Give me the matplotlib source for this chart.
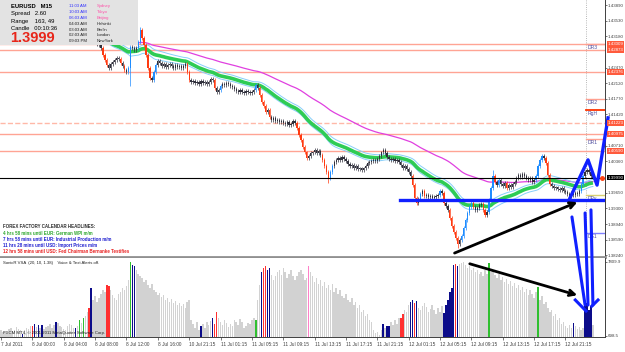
import numpy as np
import pandas as pd
import matplotlib
matplotlib.use("Agg")
import matplotlib.pyplot as plt
import matplotlib.transforms as mtransforms
from matplotlib.patches import Rectangle, ConnectionPatch

plt.rcParams['font.family'] = ['Liberation Sans', 'DejaVu Sans']

# ---------------- data (EURUSD M15 closes) ----------------
closes = [
    1.4321, 1.4324, 1.4326, 1.4324, 1.4328, 1.4332, 1.4330, 1.4335, 1.4332, 1.4337, 1.4335,
    1.4332, 1.4330, 1.4335, 1.4337, 1.4339, 1.4337, 1.4341, 1.4344, 1.4339, 1.4337,
    1.4335, 1.4332, 1.4337, 1.4339, 1.4335, 1.4330, 1.4328, 1.4332, 1.4335, 1.4330,
    1.4326, 1.4328, 1.4324, 1.4321, 1.4326, 1.4330, 1.4332, 1.4328, 1.4324, 1.4319,
    1.4321, 1.4317, 1.4314, 1.4310, 1.4312, 1.4308, 1.4310, 1.4305, 1.4301, 1.4299,
    1.4292, 1.4276, 1.4265, 1.4253, 1.4247, 1.4256, 1.4260, 1.4265, 1.4269, 1.4267,
    1.4258, 1.4251, 1.4242, 1.4238, 1.4247, 1.4294, 1.4292, 1.4287, 1.4292, 1.4305,
    1.4332, 1.4314, 1.4299, 1.4276, 1.4247, 1.4224, 1.4220, 1.4238, 1.4253, 1.4262,
    1.4258, 1.4251, 1.4256, 1.4249, 1.4253, 1.4256, 1.4251, 1.4247, 1.4253, 1.4249,
    1.4251, 1.4247, 1.4251, 1.4256, 1.4238, 1.4220, 1.4215, 1.4217, 1.4213, 1.4215,
    1.4211, 1.4217, 1.4213, 1.4215, 1.4211, 1.4215, 1.4222, 1.4220, 1.4201, 1.4192,
    1.4197, 1.4206, 1.4211, 1.4208, 1.4213, 1.4211, 1.4206, 1.4204, 1.4199, 1.4195,
    1.4192, 1.4197, 1.4192, 1.4190, 1.4195, 1.4192, 1.4190, 1.4192, 1.4197, 1.4208,
    1.4201, 1.4186, 1.4170, 1.4161, 1.4147, 1.4152, 1.4136, 1.4129, 1.4134, 1.4127,
    1.4129, 1.4125, 1.4127, 1.4122, 1.4120, 1.4125, 1.4118, 1.4120, 1.4127, 1.4122,
    1.4111, 1.4095, 1.4084, 1.4068, 1.4056, 1.4043, 1.4048, 1.4054, 1.4056, 1.4061,
    1.4054, 1.4059, 1.4050, 1.4039, 1.4025, 1.4011, 1.3998, 1.4011, 1.4025, 1.4034,
    1.4039, 1.4043, 1.4039, 1.4046, 1.4041, 1.4037, 1.4030, 1.4025, 1.4027, 1.4020,
    1.4025, 1.4018, 1.4020, 1.4016, 1.4020, 1.4025, 1.4032, 1.4034, 1.4037, 1.4039,
    1.4037, 1.4041, 1.4048, 1.4056, 1.4061, 1.4054, 1.4046, 1.4041, 1.4039, 1.4041,
    1.4037, 1.4039, 1.4034, 1.4027, 1.4020, 1.4025, 1.4018, 1.4011, 1.4003, 1.3982,
    1.3953, 1.3942, 1.3951, 1.3962, 1.3969, 1.3957, 1.3960, 1.3955, 1.3957, 1.3953,
    1.3955, 1.3957, 1.3960, 1.3969, 1.3964, 1.3942, 1.3935, 1.3926, 1.3908, 1.3889,
    1.3876, 1.3863, 1.3849, 1.3858, 1.3867, 1.3885, 1.3903, 1.3919, 1.3933, 1.3942,
    1.3933, 1.3926, 1.3930, 1.3937, 1.3939, 1.3926, 1.3914, 1.3921, 1.3948, 1.3975,
    1.4003, 1.3989, 1.3982, 1.3994, 1.3985, 1.3980, 1.3987, 1.3975, 1.3982, 1.3977,
    1.3985, 1.3989, 1.3998, 1.4005, 1.4000, 1.4007, 1.4003, 1.3998, 1.3994, 1.3998,
    1.3989, 1.3994, 1.4003, 1.4025, 1.4039, 1.4048, 1.4043, 1.4032, 1.4005, 1.3985,
    1.3980, 1.3975, 1.3977, 1.3973, 1.3971, 1.3975, 1.3969, 1.3966, 1.3962, 1.3957,
    1.3964, 1.3960, 1.3964, 1.3962, 1.3969, 1.3985, 1.4003, 1.4011, 1.4016, 1.4011, 1.4003, 1.3999,
]

highs_extra = {71: 1.4339, 251: 1.4016, 276: 1.4052}
lows_extra = {66: 1.4206, 167: 1.3987, 233: 1.3840}
wick = 0.0004

volumes = [
    1275, 1083, 1179, 986, 1371, 1467, 1179, 1275, 1563, 1371, 1275,
    890, 1275, 1467, 1371, 1659, 1659, 1851, 1563, 1755, 1467,
    1755, 1371, 1563, 1659, 1851, 1467, 1755, 2044, 1947, 1659,
    1563, 1371, 1275, 1659, 1851, 1755, 1467, 1467, 1659, 2236,
    1947, 2428, 2620, 3005, 3389, 5311, 4158, 4542, 3966, 4350,
    4734, 5119, 4927, 5599, 5503, 5119, 4638, 4350, 4158, 4734,
    4927, 5311, 5119, 5503, 6080, 7810, 7521, 7425, 7041, 6656,
    6464, 6272, 5888, 6080, 5599, 5311, 5695, 5119, 4927, 4638,
    4830, 4446, 4638, 4158, 4350, 3966, 4254, 3869, 4062, 3677,
    3869, 3581, 3773, 3389, 3966, 4158, 2236, 1851, 1467, 2044,
    1275, 1659, 1851, 1467, 2044, 1755, 2140, 2428, 1851, 3005,
    2428, 2044, 1755, 2236, 1947, 1563, 1851, 1659, 2236, 2044,
    1755, 2332, 2044, 1467, 1659, 1947, 1851, 2236, 2428, 2236,
    4158, 5599, 6849, 7233, 7425, 7041, 7233, 6560, 6080, 6464,
    6849, 7041, 6560, 7233, 6849, 6272, 6656, 7041, 6464, 6080,
    6464, 6849, 7041, 6656, 6080, 6272, 7425, 6849, 6464, 5888,
    6272, 5695, 6080, 5503, 5888, 5311, 5599, 5119, 5695, 4927,
    5311, 4734, 5119, 4542, 4350, 4734, 4158, 3966, 4350, 3677,
    3966, 3389, 3677, 3005, 3197, 2620, 2812, 2236, 2044, 1275,
    986, 1083, 794, 1275, 1851, 1467, 1659, 1659, 2044, 1755,
    2236, 1851, 2428, 2428, 2812, 3197, 3005, 3677, 3966, 4158,
    3869, 4062, 3389, 3197, 3581, 3869, 3485, 3005, 3293, 3677,
    3197, 2812, 3389, 3005, 3581, 2908, 3677, 4158, 4927, 5311,
    7521, 7617, 7425, 7617, 7713, 7810, 7521, 7233, 7425, 7041,
    7233, 6849, 7041, 6656, 6849, 6464, 7041, 6656, 7713, 6849,
    7041, 6560, 6272, 6656, 6080, 6368, 5888, 6176, 5695, 5984,
    5503, 5792, 5311, 5599, 5119, 5407, 4927, 5215, 4638, 5119,
    4734, 4350, 4927, 5407, 4158, 4542, 3773, 3966, 3389, 3005,
    3197, 2620, 2812, 2236, 2428, 1851, 2044, 1659, 1467, 1755,
    1467, 1947, 1659, 1371, 1563, 1275, 1467, 3677, 3869, 3197, 3581, 1755,
]
vol_navy = [11, 17, 19, 21, 28, 38, 46, 67, 68, 102, 108, 133, 136, 137, 195, 197, 198,
            209, 210, 212, 226, 227, 228, 229, 230, 231, 233, 292, 298, 299, 300, 301]
vol_red = [16, 45, 54, 55, 109, 110, 134, 135, 204, 205, 211, 232]
vol_green = [40, 42, 66, 130, 249, 274]
vol_pink = [157]
vol_max_label = "7809.9"
vol_min_label = "698.5"
vol_max_value = 7809.9
vol_min_value = 698.5

x_labels = ["7 Jul 2011", "8 Jul 00:00", "8 Jul 04:00", "8 Jul 08:00", "8 Jul 12:00",
            "8 Jul 16:00", "10 Jul 21:15", "11 Jul 01:15", "11 Jul 05:15", "11 Jul 09:15",
            "11 Jul 13:15", "11 Jul 17:15", "11 Jul 21:15", "12 Jul 01:15", "12 Jul 05:15",
            "12 Jul 09:15", "12 Jul 13:15", "12 Jul 17:15", "12 Jul 21:15"]
x_label_bars = list(range(0, 16 * len(x_labels), 16))

# visible price-scale labels (those hidden under the level boxes are left out)
price_ticks = [1.43890, 1.43530, 1.43180, 1.42470, 1.42120, 1.41770, 1.41420,
               1.40710, 1.40360, 1.39650, 1.39300, 1.38940, 1.38590, 1.38240]

level_prices = [1.43009, 1.42873, 1.42376, 1.41223, 1.40975, 1.40590]
level_styles = ['-', '-', '-', '--', '-', '-']
bid_price = 1.3999
pivot_names = ["DR3", "DR2", "RgH", "DR1", "DPv", "DS1"]
pivot_prices = [1.43009, 1.41766, 1.41517, 1.40862, 1.39596, 1.38737]
pivot_colors = ["#FFA090", "#FFA090", "#FF3300", "#FFA090", "#D8D070", "#8080FF"]

support_price = 1.3948

# ---------------- figure ----------------
W, H = 625, 352
fig = plt.figure(figsize=(W / 100, H / 100), dpi=100)
fig.patch.set_facecolor('white')

def fx(px):
    return px / W

def fy(py):
    return 1 - py / H

ax = fig.add_axes([0, fy(257), fx(605), 257 / H])
axv = fig.add_axes([0, fy(337), fx(605), (337 - 258) / H], sharex=ax)

n = len(closes)
idx = np.arange(n)
c = np.array(closes)
o = np.r_[c[0], c[:-1]]
hi = np.maximum(o, c) + wick
lo = np.minimum(o, c) - wick
for k, v in highs_extra.items():
    hi[k] = v
for k, v in lows_extra.items():
    lo[k] = v

BLUE = "#1E8CFF"
RED = "#FF3A10"
DARK = "#30303C"
col = np.where(c - o > 0.0009, BLUE, np.where(o - c > 0.0009, RED, DARK))

ax.set_xlim(-0.51, 308.16)
ax.set_ylim(1.38195, 1.44003)

# moving averages (SonicR: EMA34 of high/close/low, EMA89)
ema34 = pd.Series(c).ewm(span=34, adjust=False).mean()
ema34h = pd.Series(hi).ewm(span=34, adjust=False).mean()
ema34l = pd.Series(lo).ewm(span=34, adjust=False).mean()
ema89 = pd.Series(c).ewm(span=89, adjust=False).mean()
ax.plot(idx, ema89, color="#E040E0", lw=0.9, zorder=3)
ax.plot(idx, ema34h, color="#87CEFA", lw=0.7, zorder=3)
ax.plot(idx, ema34l, color="#87CEFA", lw=0.7, zorder=3)
ax.plot(idx, ema34, color="#2ECC55", lw=2.6, zorder=3, solid_capstyle='butt')

# candles
ax.vlines(idx, lo, hi, colors=col, lw=0.5, zorder=4)
ax.bar(idx, np.maximum(np.abs(c - o), 0.00006), bottom=np.minimum(o, c), width=0.65,
       color=col, zorder=4)

# level lines
for p, ls in zip(level_prices, level_styles):
    ax.axhline(p, color="#FFA494" if ls == '-' else "#FFB8A8", lw=1.0, ls=ls, zorder=2)
ax.axhline(bid_price, color="black", lw=0.8, zorder=5)
ax.axvline(298.5, color="#A0A0A0", lw=0.6, ls=':', zorder=1)

# pivot short lines + names
for name, p, pc in zip(pivot_names, pivot_prices, pivot_colors):
    ax.plot([298.5, 308.16], [p, p], color=pc, lw=1.3 if name == "RgH" else 1.0, zorder=5)
    ax.text(299.3, p - 0.0002, name, fontsize=3.6, color="#5050A0", va='top', ha='left', zorder=6)

# right price axis
LAB = 3.2
ax.yaxis.tick_right()
ax.set_yticks(price_ticks)
ax.set_yticklabels(["%.5f" % p for p in price_ticks])
ax.tick_params(axis='y', length=1.5, pad=0.6, labelsize=LAB, colors='#404040', width=0.5)
ax.tick_params(axis='x', bottom=False, labelbottom=False)
for s in ['left', 'top']:
    ax.spines[s].set_visible(False)
ax.spines['right'].set_color('#404040')
ax.spines['right'].set_linewidth(0.7)
ax.spines['bottom'].set_color('#909090')
ax.spines['bottom'].set_linewidth(2.0)

blend = mtransforms.blended_transform_factory(ax.transAxes, ax.transData)
for p in level_prices:
    ax.text(1.004, p, "%.5f" % p, transform=blend, fontsize=LAB, color='white',
            va='center', ha='left', clip_on=False, zorder=30,
            bbox=dict(boxstyle='square,pad=0.2', fc='#FF5A3C', ec='none'))
ax.text(1.004, bid_price, "%.5f" % bid_price, transform=blend, fontsize=LAB, color='white',
        va='center', ha='left', clip_on=False, zorder=30,
        bbox=dict(boxstyle='square,pad=0.2', fc='black', ec='none'))
ax.plot([306.5], [bid_price], marker='o', ms=2.5, color='#FF4010', zorder=31, clip_on=False)

# hand-drawn annotations
ax.plot([203.6, 308.16], [support_price, support_price], color="#1020FF", lw=2.4, zorder=20)
zig_x = [290.3, 299.5, 304.1, 309.7]
zig_y = [1.3953, 1.4039, 1.3982, 1.4134]
ax.plot(zig_x, zig_y, color="#1020FF", lw=2.4, zorder=20, clip_on=False)
ax.annotate("", xy=(295.4, 1.3946), xytext=(230.1, 1.3826),
            arrowprops=dict(arrowstyle='->', color='black', lw=2.0, mutation_scale=10), zorder=20)

# info box
box = Rectangle((0, fy(45)), fx(138), 45 / H, transform=fig.transFigure,
                facecolor="#E3E3E3", edgecolor='none', zorder=10)
ax.add_patch(box)
fig.text(fx(11), fy(6), "EURUSD   M15", fontsize=4.2, fontweight='bold', va='center', zorder=11)
fig.text(fx(11), fy(14), "Spread   2.60", fontsize=4.2, va='center')
fig.text(fx(11), fy(21), "Range    163, 49", fontsize=4.2, va='center')
fig.text(fx(11), fy(28), "Candle   00:10:36", fontsize=4.2, va='center')
fig.text(fx(10), fy(38.5), "1.3999", fontsize=10.5, fontweight='bold', color='#E8261A', va='center')
times = ["11:03 AM", "10:03 AM", "06:03 AM", "04:03 AM", "03:03 AM", "02:03 AM", "09:03 PM"]
cities = ["Sydney", "Tokyo", "Beijing", "Helsinki", "Berlin", "London", "NewYork"]
for k, (t, cty) in enumerate(zip(times, cities)):
    yy = 6 + 5.9 * k
    fig.text(fx(69), fy(yy), t, fontsize=3.1, va='center', color='#3030FF' if k < 3 else '#202020')
    fig.text(fx(97), fy(yy), cty, fontsize=3.1, va='center', color='#FF4FA8' if k < 3 else '#202020')

# calendar headlines
headlines = ["FOREX FACTORY CALENDAR HEADLINES:",
             "4 hrs 58 mins until EUR: German WPI m/m",
             "7 hrs 58 mins until EUR: Industrial Production m/m",
             "11 hrs 28 mins until USD: Import Prices m/m",
             "12 hrs 58 mins until USD: Fed Chairman Bernanke Testifies"]
head_colors = ["#303030", "#2FA82F", "#2020D0", "#2020D0", "#E82020"]
for k, (t, hc) in enumerate(zip(headlines, head_colors)):
    fig.text(fx(3), fy(227 + 6.2 * k), t, fontsize=3.25, fontweight='bold', color=hc, va='center')

# volume panel
vcol = ["#D2D2D2"] * n
for k in vol_navy:
    vcol[k] = "#0C0C8A"
for k in vol_red:
    vcol[k] = "#FF3030"
for k in vol_green:
    vcol[k] = "#30C030"
for k in vol_pink:
    vcol[k] = "#FF80C8"
axv.bar(idx, volumes, width=0.72, color=vcol, zorder=2)
axv.set_ylim(602, 8194)
axv.yaxis.tick_right()
axv.set_yticks([vol_min_value, vol_max_value])
axv.set_yticklabels([vol_min_label, vol_max_label])
axv.tick_params(axis='y', length=1.5, pad=0.6, labelsize=LAB, colors='#404040', width=0.5)
axv.set_xticks(x_label_bars)
axv.set_xticklabels(x_labels)
for lab in axv.get_xticklabels():
    lab.set_horizontalalignment('left')
axv.tick_params(axis='x', length=2, pad=1.5, labelsize=3.4, colors='#404040', width=0.5)
for s in ['left', 'top']:
    axv.spines[s].set_visible(False)
for s in ['right', 'bottom']:
    axv.spines[s].set_color('#404040')
    axv.spines[s].set_linewidth(0.7)
axv.text(0.005, 0.96, "SonicR VSA  (20, 10, 1.38)    Voice & Text Alerts off.", transform=axv.transAxes,
         fontsize=3.1, va='top', ha='left', color='#202020')
axv.text(0.005, 0.03, "FXCM MT4, \u00a9 2001-2011 MetaQuotes Software Corp.", transform=axv.transAxes,
         fontsize=3.1, va='bottom', ha='left', color='#202020', zorder=5)

axv.annotate("", xy=(295.4, 4542), xytext=(237.8, 7713),
             arrowprops=dict(arrowstyle='->', color='black', lw=2.0, mutation_scale=10), zorder=20)

# blue strokes crossing from price panel into volume panel
cross = [((291.3, 1.3910), (298.0, 3677)),
         ((298.0, 1.3919), (299.5, 3677)),
         ((301.0, 1.3926), (302.0, 3677))]
for a, b in cross:
    cp = ConnectionPatch(xyA=a, coordsA=ax.transData, xyB=b, coordsB=axv.transData,
                         color="#1020FF", lw=2.2, zorder=25)
    fig.add_artist(cp)
axv.plot([293.0, 298.5], [4158, 3100], color="#1020FF", lw=2.2, zorder=20)
axv.plot([304.6, 301.5], [4158, 3581], color="#1020FF", lw=2.2, zorder=20, clip_on=False)

fig.savefig("out.png", dpi=100, facecolor='white')
